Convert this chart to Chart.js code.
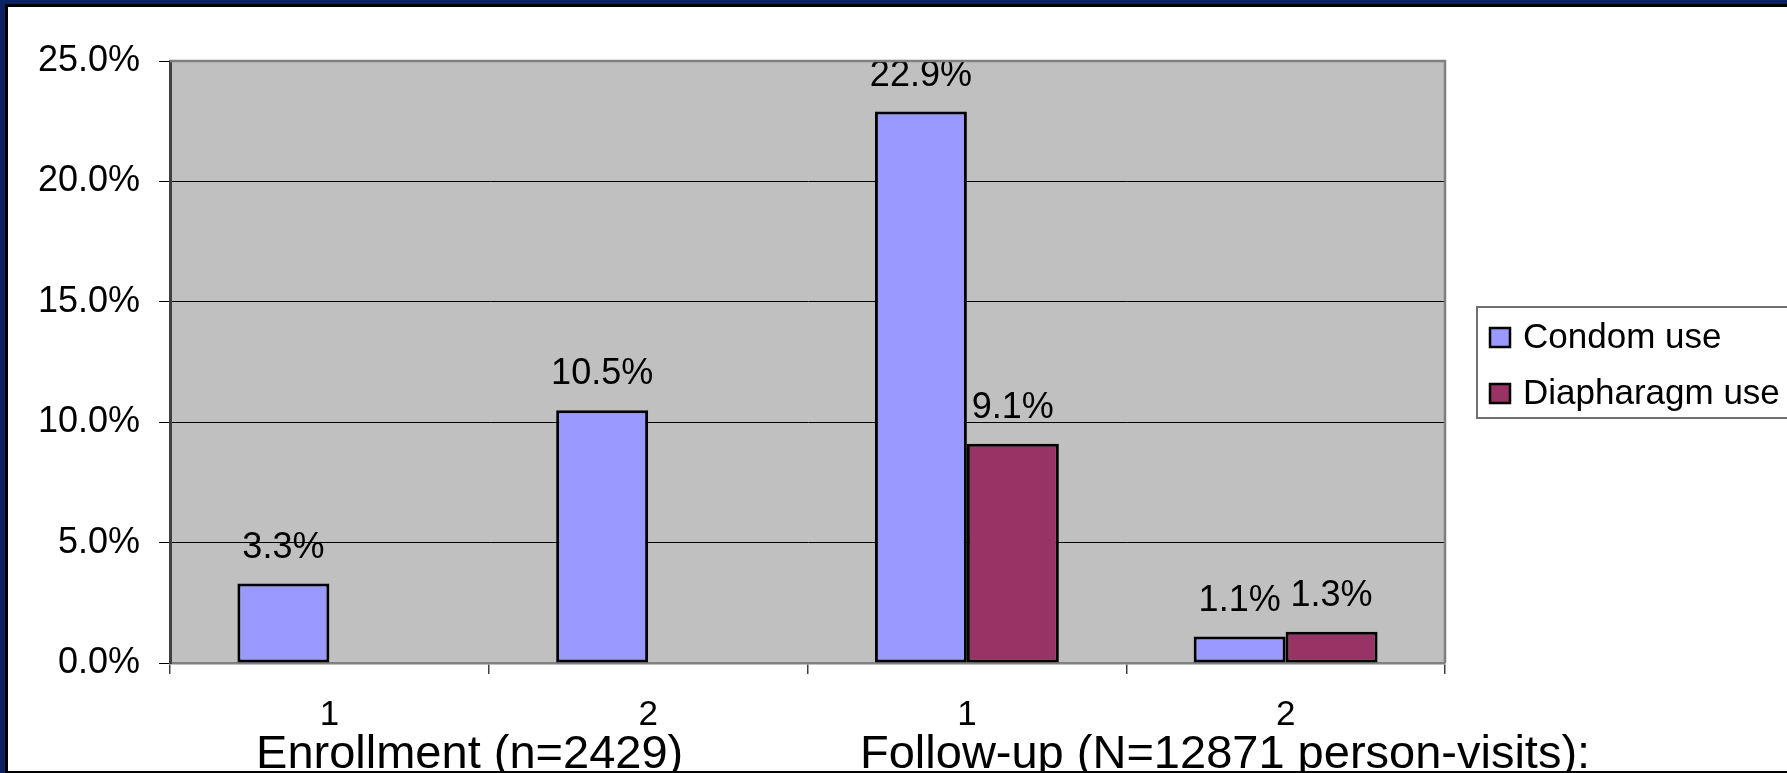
<!DOCTYPE html>
<html>
<head>
<meta charset="utf-8">
<script src="https://cdn.jsdelivr.net/npm/chart.js@4/dist/chart.umd.min.js"></script>
<style>
    html, body { margin: 0; padding: 0; background: #fff; overflow: hidden; }
    .frame {
        width: 1787px; height: 773px; box-sizing: border-box;
        border-top: 4px solid #0b2266; border-left: 5px solid #0b2266;
    }
    .inner {
        width: 1782px; height: 769px; box-sizing: border-box;
        border-top: 3px solid #000; border-left: 3px solid #000; border-bottom: 2px solid #000;
        background: #fff;
    }
    canvas { display: block; }
</style>
</head>
<body>
<div class="frame"><div class="inner">
    <canvas id="useChart" width="1779" height="764"></canvas>
</div></div>
<script>
// 데이터
const categories = ['1', '2', '1', '2'];
const groupLabels = ['Enrollment (n=2429)', 'Follow-up (N=12871 person-visits):'];
const seriesNames = ['Condom use', 'Diapharagm use'];
const condomUse = [3.3, 10.5, 22.9, 1.1];
const diaphragmUse = [null, null, 9.1, 1.3];
const yTicks = [0, 5, 10, 15, 20, 25];

const FONT = "'Liberation Sans', Arial, sans-serif";

// 플롯 배경 + 테두리
const plotFrame = {
    id: 'plotFrame',
    beforeDraw(chart) {
        const { ctx, chartArea: a } = chart;
        ctx.save();
        ctx.fillStyle = '#c0c0c0';
        ctx.fillRect(a.left, a.top, a.right - a.left, a.bottom - a.top);
        ctx.restore();
    },
    afterDraw(chart) {
        const { ctx, chartArea: a } = chart;
        ctx.save();
        ctx.strokeStyle = '#808080';
        ctx.lineWidth = 2.5;
        ctx.beginPath();
        ctx.moveTo(a.left, a.top);
        ctx.lineTo(a.right, a.top);
        ctx.lineTo(a.right, a.bottom);
        ctx.stroke();
        ctx.restore();
    }
};

// 막대 위 값 라벨
const valueLabels = {
    id: 'valueLabels',
    afterDatasetsDraw(chart) {
        const { ctx } = chart;
        ctx.save();
        ctx.font = '36px ' + FONT;
        ctx.fillStyle = '#000';
        ctx.textAlign = 'center';
        ctx.textBaseline = 'alphabetic';
        chart.data.datasets.forEach((ds, i) => {
            chart.getDatasetMeta(i).data.forEach((bar, j) => {
                const v = ds.data[j];
                if (v === null || v === undefined) return;
                ctx.fillText(v.toFixed(1) + '%', bar.x, bar.y - 26);
            });
        });
        ctx.restore();
    }
};

// 그룹 라벨 (두번째 줄)
const groupRow = {
    id: 'groupRow',
    afterDraw(chart) {
        const { ctx } = chart;
        const x = chart.scales.x;
        const centers = [0.44, 2.81];
        ctx.save();
        ctx.font = '47px ' + FONT;
        ctx.fillStyle = '#000';
        ctx.textAlign = 'center';
        ctx.textBaseline = 'alphabetic';
        groupLabels.forEach((t, i) => {
            ctx.fillText(t, x.getPixelForValue(centers[i]), 761);
        });
        ctx.restore();
    }
};

// 테두리 있는 범례
const boxLegend = {
    id: 'boxLegend',
    afterDraw(chart) {
        const { ctx } = chart;
        const left = 1469, top = 300, bottom = 411;
        ctx.save();
        ctx.fillStyle = '#fff';
        ctx.fillRect(left, top, chart.width - left + 5, bottom - top);
        ctx.strokeStyle = '#707070';
        ctx.lineWidth = 2;
        ctx.strokeRect(left, top, chart.width - left + 10, bottom - top);
        ctx.font = '35px ' + FONT;
        ctx.textBaseline = 'middle';
        ctx.textAlign = 'left';
        chart.data.datasets.forEach((ds, i) => {
            const cy = 330 + i * 56;
            ctx.fillStyle = ds.backgroundColor;
            ctx.fillRect(1482, cy - 9, 20, 19);
            ctx.strokeStyle = '#000';
            ctx.lineWidth = 2.5;
            ctx.strokeRect(1482, cy - 9, 20, 19);
            ctx.fillStyle = '#000';
            ctx.fillText(ds.label, 1515, cy + 1);
        });
        ctx.restore();
    }
};

new Chart(document.getElementById('useChart'), {
    type: 'bar',
    data: {
        labels: categories,
        datasets: [
            {
                label: seriesNames[0],
                data: condomUse,
                backgroundColor: '#9999ff',
                borderColor: '#000',
                borderWidth: 3,
                borderSkipped: false,
                categoryPercentage: 0.577,
                barPercentage: 1.0
            },
            {
                label: seriesNames[1],
                data: diaphragmUse,
                backgroundColor: '#993366',
                borderColor: '#000',
                borderWidth: 3,
                borderSkipped: false,
                categoryPercentage: 0.577,
                barPercentage: 1.0
            }
        ]
    },
    options: {
        responsive: false,
        animation: false,
        layout: { padding: { top: 54, right: 342, left: 0, bottom: 0 } },
        plugins: {
            legend: { display: false },
            tooltip: { enabled: false }
        },
        scales: {
            x: {
                grid: {
                    offset: true,
                    drawOnChartArea: false,
                    drawTicks: true,
                    tickLength: 11,
                    color: '#404040',
                    lineWidth: 1.5
                },
                border: { color: '#808080', width: 2.5 },
                ticks: {
                    color: '#000',
                    font: { family: FONT, size: 35 },
                    padding: 20,
                    maxRotation: 0
                },
                afterFit(scale) { scale.height = 108; }
            },
            y: {
                min: 0,
                max: 25,
                afterBuildTicks(scale) {
                    scale.ticks = yTicks.map(v => ({ value: v }));
                },
                grid: {
                    color: ctx => (ctx.tick && (ctx.tick.value === 0 || ctx.tick.value === 25)) ? 'rgba(0,0,0,0)' : '#000',
                    tickColor: '#000',
                    lineWidth: 1,
                    tickLength: 11
                },
                border: { color: '#404040', width: 3 },
                ticks: {
                    color: '#000',
                    font: { family: FONT, size: 36 },
                    padding: 19,
                    callback: v => v.toFixed(1) + '%'
                },
                afterFit(scale) { scale.width = 162; }
            }
        }
    },
    plugins: [plotFrame, valueLabels, groupRow, boxLegend]
});
</script>
</body>
</html>
